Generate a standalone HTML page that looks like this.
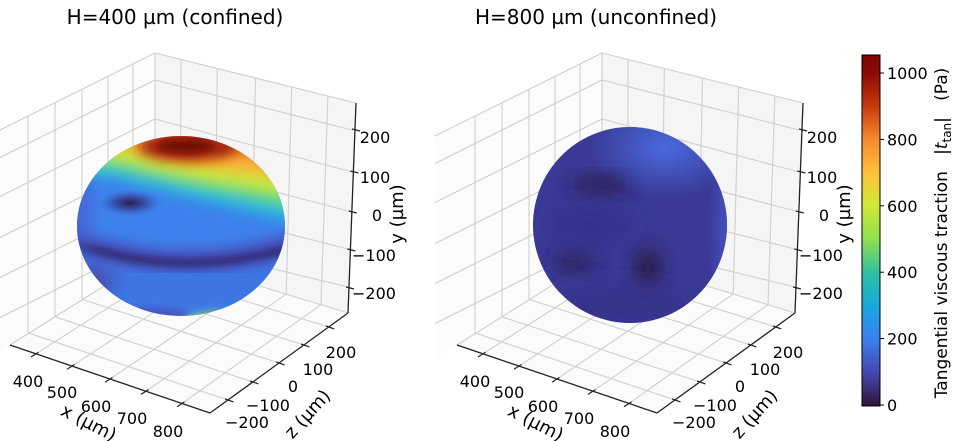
<!DOCTYPE html>
<html><head><meta charset="utf-8">
<style>
html,body{margin:0;padding:0;background:#fff;}
svg{display:block;font-family:"DejaVu Sans","Liberation Sans",sans-serif;}
</style></head>
<body>
<svg id="s" width="955" height="441" viewBox="0 0 955 441" xmlns="http://www.w3.org/2000/svg">
<defs>
<filter id="b6" x="-50%" y="-50%" width="200%" height="200%"><feGaussianBlur stdDeviation="6"/></filter>
<filter id="b4" x="-50%" y="-50%" width="200%" height="200%"><feGaussianBlur stdDeviation="4"/></filter>
<filter id="b9" x="-50%" y="-50%" width="200%" height="200%"><feGaussianBlur stdDeviation="9"/></filter>
<filter id="b12" x="-80%" y="-80%" width="260%" height="260%"><feGaussianBlur stdDeviation="12"/></filter>
<clipPath id="c1"><ellipse cx="181" cy="226" rx="104" ry="90"/></clipPath>
<clipPath id="c2"><ellipse cx="630" cy="225" rx="97" ry="98"/></clipPath>
<linearGradient id="cb" x1="0" y1="1" x2="0" y2="0">
<stop offset="0" stop-color="#30123b"/>
<stop offset="0.095" stop-color="#4548b0"/>
<stop offset="0.19" stop-color="#3a80ee"/>
<stop offset="0.285" stop-color="#18a8e0"/>
<stop offset="0.38" stop-color="#30c0a0"/>
<stop offset="0.474" stop-color="#8ee050"/>
<stop offset="0.57" stop-color="#d0e838"/>
<stop offset="0.664" stop-color="#ffc03a"/>
<stop offset="0.76" stop-color="#f58a30"/>
<stop offset="0.854" stop-color="#c83a0c"/>
<stop offset="0.95" stop-color="#8a0a05"/>
<stop offset="1" stop-color="#7a0403"/>
</linearGradient>
<radialGradient id="ds"><stop offset="0" stop-color="#2a1d50"/><stop offset="0.45" stop-color="#35388a" stop-opacity="0.7"/><stop offset="1" stop-color="#3d6ee0" stop-opacity="0"/></radialGradient>
<radialGradient id="hl" cx="0.5" cy="0.5" r="0.5"><stop offset="0" stop-color="#4a6ade"/><stop offset="1" stop-color="#4a6ade" stop-opacity="0"/></radialGradient>
</defs>
<g id="g"></g>
</svg>
<script>
var out='';
function L(x1,y1,x2,y2,c,w){out+='<line x1="'+x1.toFixed(1)+'" y1="'+y1.toFixed(1)+'" x2="'+x2.toFixed(1)+'" y2="'+y2.toFixed(1)+'" stroke="'+c+'" stroke-width="'+w+'"/>';}
function P(pts,f){out+='<polygon points="'+pts.map(function(p){return p[0]+','+p[1]}).join(' ')+'" fill="'+f+'"/>';}
function T(x,y,s,fs,anch,rot){out+='<text x="'+x+'" y="'+y+'" font-size="'+fs+'" text-anchor="'+(anch||'middle')+'"'+(rot!==undefined?' transform="rotate('+rot+' '+x+' '+y+')"':'')+' fill="#000">'+s+'</text>';}
function lerp(a,b,t){return [a[0]+(b[0]-a[0])*t,a[1]+(b[1]-a[1])*t];}
var fr=[0.13,0.31,0.5,0.68,0.86];
function panel(o){
  var Lc=[10+o,345],F=[210+o,413],R=[348+o,313],D=[155+o,254],A=[155+o,53],B=[356+o,103];
  var gc='#cfcfcf';
  P([[o-12,136],A,D,[o-12,359]],'#fcfcfc');
  P([D,R,B,A],'#f5f5f5');
  P([Lc,F,R,D],'#fbfbfb');
  [28,55,82,108,133].forEach(function(x){var X=x+o;L(X,53+(155-x)*0.5,X,254+(155-x)*0.63,gc,1.1);});
  var yc=[80,119,160,200,240],yr=[130,172,212,250,288];
  for(var i=0;i<5;i++){L(o-12,yc[i]+83.5,155+o,yc[i],gc,1.1);L(155+o,yc[i],352+o,yr[i],gc,1.1);}
  fr.forEach(function(t){var p=lerp(A,B,t),q=lerp(D,R,t);L(p[0],p[1],q[0],q[1],gc,1.1);});
  L(A[0],A[1],D[0],D[1],gc,1.1);L(A[0],A[1],B[0],B[1],gc,1.1);L(A[0],A[1],o-12,136,gc,1.1);
  fr.forEach(function(t){var p=lerp(Lc,F,t),q=lerp(D,R,t);L(p[0],p[1],q[0],q[1],gc,1.1);
    var p2=lerp(Lc,D,t),q2=lerp(F,R,t);L(p2[0],p2[1],q2[0],q2[1],gc,1.1);});
  L(D[0],D[1],R[0],R[1],gc,1.1);L(D[0],D[1],Lc[0],Lc[1],gc,1.1);
  var ac='#222';
  L(Lc[0],Lc[1],F[0],F[1],ac,1.3);L(F[0],F[1],R[0],R[1],ac,1.3);L(B[0],B[1],R[0],R[1],ac,1.3);
  fr.forEach(function(t){var p=lerp(Lc,F,t);L(p[0]+2.5,p[1]-1.6,p[0]-5,p[1]+3.2,ac,1.2);
    var q=lerp(F,R,t);L(q[0]-2.8,q[1]-1,q[0]+5.6,q[1]+1.9,ac,1.2);});
  yr.forEach(function(y){var x=352+o-((y-103)/210)*8+4;L(x-3,y-1,x+5,y+1,ac,1.2);});
  var xl=[['400',28,387],['500',62,398],['600',96,412],['700',132,424],['800',168,437]];
  xl.forEach(function(a){T(a[1]+o,a[2],a[0],16);});
  var zl=[['\u2212200',247,428],['\u2212100',268,411],['0',293,392],['100',318,375],['200',341,358]];
  zl.forEach(function(a){T(a[1]+o,a[2],a[0],16);});
  var yl=[['200',375,143],['100',375,183],['0',377,221],['\u2212100',374,261],['\u2212200',374,299]];
  yl.forEach(function(a){T(a[1]+o,a[2],a[0],16);});
  T(86+o,428,'x (\u00b5m)',18,'middle',27);
  T(312+o,418,'z (\u00b5m)',18,'middle',-48);
  T(403+o,214,'y (\u00b5m)',18,'middle',-90);
}
panel(0);panel(447);
// left sphere
out+='<g clip-path="url(#c1)">';
out+='<rect x="60" y="120" width="250" height="210" fill="#3d82ec"/>';
out+='<g filter="url(#b6)">';
out+='<path d="M50,110 L50,182 Q100,172 140,186 Q200,200 240,210 Q275,217 310,228 L310,110Z" fill="#2ab4e0"/>';
out+='<path d="M50,110 L50,172 Q100,162 140,176 Q200,190 240,198 Q275,205 310,214 L310,110Z" fill="#5cd878"/>';
out+='<path d="M50,110 L50,162 Q100,152 140,166 Q200,180 240,186 Q275,192 310,200 L310,110Z" fill="#c8e63a"/>';
out+='<path d="M50,110 L50,152 Q100,142 140,154 Q200,168 240,172 Q275,176 310,182 L310,110Z" fill="#fbb038"/>';
out+='<path d="M50,110 L50,142 Q120,134 160,144 Q220,156 310,160 L310,110Z" fill="#ec6a1a"/>';
out+='</g>';
out+='<ellipse cx="188" cy="147" rx="50" ry="14" fill="#a0200a" filter="url(#b6)"/>';
out+='<ellipse cx="185" cy="146" rx="28" ry="7" fill="#700805" filter="url(#b4)"/>';
out+='<path d="M60,252 Q180,287 300,252 L300,305 Q180,312 60,305Z" fill="#3e74e2" filter="url(#b6)"/>';
out+='<path d="M65,238 Q180,282 300,242" stroke="#4a52c0" stroke-width="24" fill="none" filter="url(#b6)"/>';
out+='<path d="M65,240 Q180,283 300,245" stroke="#2c2462" stroke-width="7" fill="none" filter="url(#b4)"/>';
out+='<ellipse cx="92" cy="282" rx="22" ry="18" fill="#4a50b4" filter="url(#b9)"/>';
out+='<ellipse cx="80" cy="215" rx="10" ry="40" fill="#4660d0" filter="url(#b9)"/>';
out+='<ellipse cx="130" cy="203" rx="34" ry="14" fill="url(#ds)"/>';
out+='<ellipse cx="225" cy="320" rx="40" ry="8" fill="#7ce060" filter="url(#b4)"/>';
out+='<ellipse cx="150" cy="314" rx="40" ry="6" fill="#4a50b8" filter="url(#b4)"/>';
out+='</g>';
// right sphere
out+='<g clip-path="url(#c2)">';
out+='<rect x="520" y="115" width="220" height="220" fill="#3a3a96"/>';
out+='<ellipse cx="665" cy="148" rx="75" ry="50" fill="url(#hl)"/>';
out+='<ellipse cx="600" cy="185" rx="30" ry="9" fill="#2a1c4c" filter="url(#b9)" opacity="0.9"/>';
out+='<ellipse cx="575" cy="262" rx="22" ry="10" fill="#2c2054" filter="url(#b9)" opacity="0.9"/>';
out+='<ellipse cx="648" cy="268" rx="14" ry="20" fill="#2a1a4a" filter="url(#b9)"/>';
out+='<ellipse cx="590" cy="225" rx="40" ry="20" fill="#33338a" filter="url(#b12)"/>';
out+='<ellipse cx="620" cy="305" rx="70" ry="18" fill="#343288" filter="url(#b12)"/>';
out+='<ellipse cx="725" cy="230" rx="8" ry="70" fill="#4450c0" filter="url(#b6)"/>';
out+='</g>';
T(175,24,'H=400 \u00b5m (confined)',20);
T(596,24,'H=800 \u00b5m (unconfined)',20);
out+='<rect x="862" y="55" width="18" height="351" fill="url(#cb)" stroke="#000" stroke-width="1"/>';
[0,200,400,600,800,1000].forEach(function(v){var y=405-v*0.332;L(880,y,884,y,'#000',1);T(887,y+6,String(v),16,'start');});
out+='<text x="947" y="233" font-size="17" text-anchor="middle" xml:space="preserve" transform="rotate(-90 947 233)">Tangential viscous traction   |<tspan font-style="italic">t</tspan><tspan font-size="12" dy="4">tan</tspan><tspan dy="-4">|   (Pa)</tspan></text>';
document.getElementById('g').innerHTML=out;
</script>
</body></html>
